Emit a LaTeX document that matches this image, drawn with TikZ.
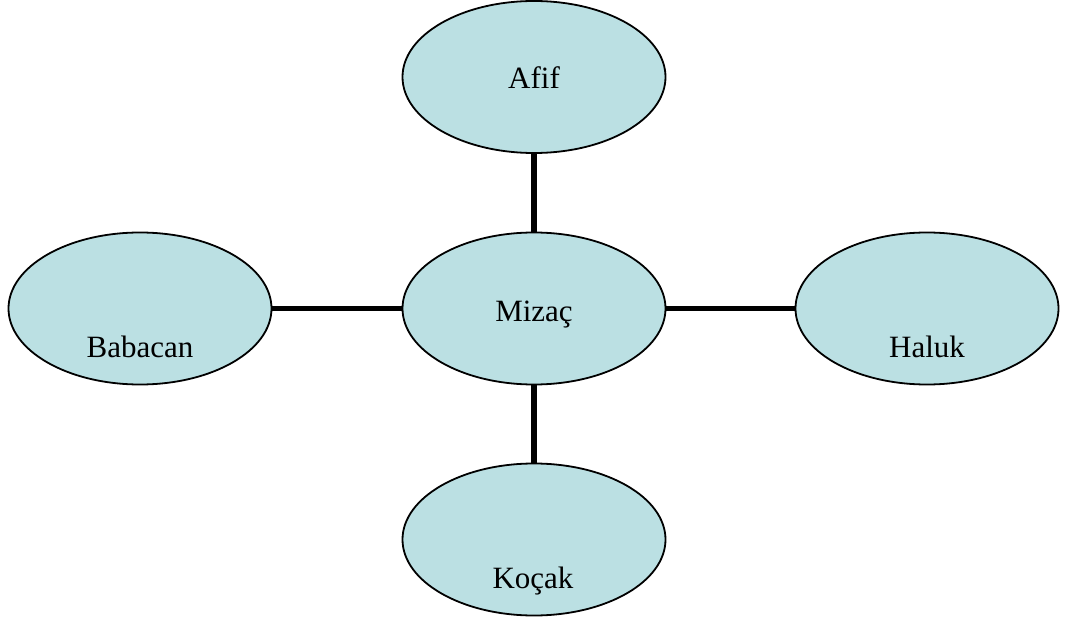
\documentclass[tikz,border=0pt]{standalone}
\usepackage{fontspec}
\setmainfont{Liberation Serif}
\usetikzlibrary{shapes.geometric}
\definecolor{bubble}{HTML}{BBE0E3}
\tikzset{
  bubble/.style={ellipse, draw=black, fill=bubble, line width=1.8bp,
    minimum width=263bp, minimum height=152bp, inner sep=0pt, outer sep=0pt},
  lbl/.style={anchor=base, inner sep=0pt, font=\fontsize{31bp}{36bp}\selectfont},
  link/.style={line width=5.5bp, black}
}
\begin{document}
\begin{tikzpicture}[x=1bp,y=-1bp]
\useasboundingbox (0,0) rectangle (1068,622);
\node[bubble] (afif) at (534,77) {};
\node[bubble] (mizac) at (534,308.5) {};
\node[bubble] (babacan) at (140,308.5) {};
\node[bubble] (haluk) at (927,308.5) {};
\node[bubble] (kocak) at (534,539.5) {};
\draw[link] (afif.south) -- (mizac.north);
\draw[link] (mizac.south) -- (kocak.north);
\draw[link] (babacan.east) -- (mizac.west);
\draw[link] (mizac.east) -- (haluk.west);
\node[lbl] (tafif) at (534,89) {Afif};
\node[lbl] (tmizac) at (534,321) {Mizaç};
\node[lbl] (tbabacan) at (140,357) {Babacan};
\node[lbl] (thaluk) at (927,357) {Haluk};
\node[lbl] (tkocak) at (533,588) {Koçak};
\end{tikzpicture}
\end{document}
